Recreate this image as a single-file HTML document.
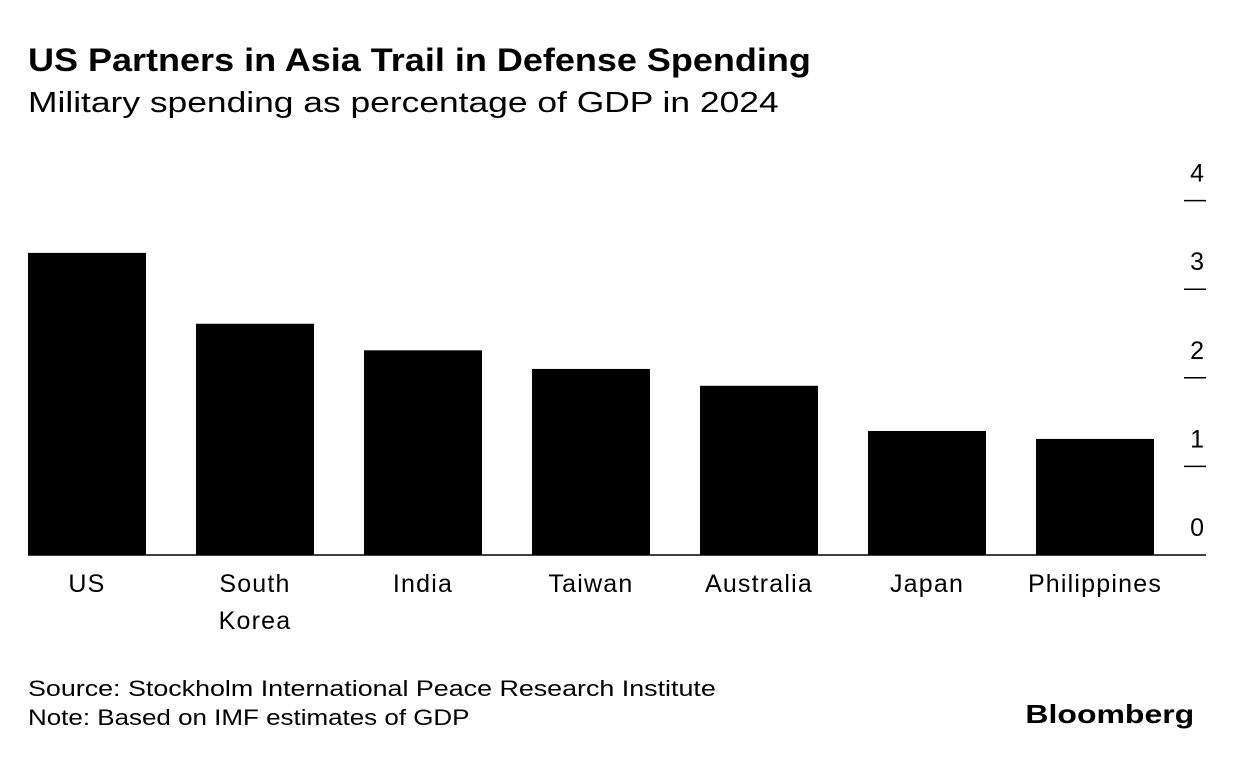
<!DOCTYPE html>
<html><head><meta charset="utf-8"><style>
body{margin:0;width:1233px;height:758px;background:#fff;font-family:"Liberation Sans",sans-serif;color:#000;overflow:hidden;position:relative}
.t{position:absolute;white-space:nowrap;transform-origin:0 0}
</style></head><body>
<div class="t" style="left:28px;top:42px;font-size:32px;font-weight:bold;transform:scaleX(1.125)">US Partners in Asia Trail in Defense Spending</div>
<div class="t" style="left:28px;top:87px;font-size:29px;transform:scaleX(1.22)">Military spending as percentage of GDP in 2024</div>
<svg id="chart" width="1233" height="660" style="position:absolute;left:0;top:0"></svg>
<div class="t" style="left:28px;top:676px;font-size:22px;transform:scaleX(1.22)">Source: Stockholm International Peace Research Institute</div>
<div class="t" style="left:28px;top:705px;font-size:22px;transform:scaleX(1.18)">Note: Based on IMF estimates of GDP</div>
<div class="t" style="right:39px;top:699px;font-size:26px;font-weight:bold;transform-origin:100% 0;transform:scaleX(1.23)">Bloomberg</div>
<script>
const categories=["US","South Korea","India","Taiwan","Australia","Japan","Philippines"];
const values=[3.41,2.61,2.31,2.10,1.91,1.40,1.31];
const ticks=[0,1,2,3,4];
const NS="http://www.w3.org/2000/svg";
const svg=document.getElementById('chart');
const y=v=>555-v*88.6;
const x=i=>28+i*168;
const bw=118;
function mk(t,a){const e=document.createElementNS(NS,t);for(const k in a)e.setAttribute(k,a[k]);svg.appendChild(e);return e;}
values.forEach((v,i)=>{
 const r=mk('rect',{x:x(i),y:y(v),width:bw,height:555-y(v),fill:'#000'});
 
 
 const words=categories[i].split(' ');
 words.forEach((w,j)=>{
  const t=mk('text',{x:x(i)+bw/2,y:592+j*37,'text-anchor':'middle','font-size':25,'letter-spacing':1.2});
  t.textContent=w;
  
  
 });
});
const base=mk('line',{x1:28,x2:1206,y1:555,y2:555,stroke:'#000','stroke-width':1.5});


ticks.forEach(tv=>{
 if(tv>0){const l=mk('line',{x1:1184,x2:1206,y1:y(tv),y2:y(tv),stroke:'#000','stroke-width':1.5});
 
 }
 const t=mk('text',{x:1204,y:y(tv)-19,'text-anchor':'end','font-size':25});
 t.textContent=tv;
 
 
});
</script>
</body></html>
